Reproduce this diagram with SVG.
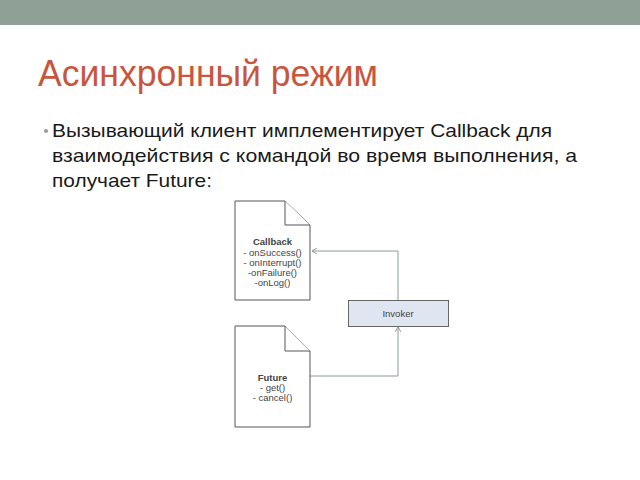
<svg xmlns="http://www.w3.org/2000/svg" width="640" height="480" viewBox="0 0 640 480">
<defs>
<style>
.title{font-family:"Liberation Sans",Arial,sans-serif;font-size:37px;fill:#c8553d}
.body{font-family:"Liberation Sans",Arial,sans-serif;font-size:19px;fill:#1a1a1a}
.doc{fill:#ffffff;stroke:#555;stroke-width:1}
.lbl{font-family:"Liberation Sans",Arial,sans-serif;font-size:9.5px;fill:#444;text-anchor:middle}
.bold{font-weight:bold}
.conn{fill:none;stroke:#8c9a9c;stroke-width:1}
</style>
<marker id="ah" markerWidth="6" markerHeight="6" refX="5" refY="3" orient="auto" markerUnits="userSpaceOnUse">
<path d="M0,0 L5,3 L0,6" fill="none" stroke="#8c9a9c" stroke-width="1"/>
</marker>
</defs>
<rect x="0" y="0" width="640" height="480" fill="#ffffff"/>
<rect x="0" y="0" width="640" height="25" fill="#8fa097"/>
<text class="title" x="38" y="86" textLength="340" lengthAdjust="spacingAndGlyphs">Асинхронный режим</text>
<circle cx="46" cy="131" r="2" fill="#999"/>
<text class="body" x="52" y="137" textLength="500" lengthAdjust="spacingAndGlyphs">Вызывающий клиент имплементирует Callback для</text>
<text class="body" x="52" y="162" textLength="525" lengthAdjust="spacingAndGlyphs">взаимодействия с командой во время выполнения, а</text>
<text class="body" x="52" y="187" textLength="160" lengthAdjust="spacingAndGlyphs">получает Future:</text>
<g id="connectors">
<path class="conn" d="M398,300 V251 H312" marker-end="url(#ah)"/>
<path class="conn" d="M310,376 H398 V327" marker-end="url(#ah)"/>
</g>
<g id="callback">
<path class="doc" d="M235,201 H285 L310,225 V300 H235 Z"/>
<path class="doc" d="M285,201 V225 H310" fill="none"/>
<text class="lbl bold" x="272.500" y="245">Callback</text>
<text class="lbl" x="272.500" y="256">- onSuccess()</text>
<text class="lbl" x="272.500" y="265.500">- onInterrupt()</text>
<text class="lbl" x="272.500" y="275.500">-onFailure()</text>
<text class="lbl" x="272.500" y="285.500">-onLog()</text>
</g>
<g id="invoker">
<rect x="348.500" y="300.500" width="100" height="26" fill="#dfe5f1" stroke="#666"/>
<text class="lbl" x="398" y="316.500">Invoker</text>
</g>
<g id="future">
<path class="doc" d="M235,326 H285 L310,351 V427 H235 Z"/>
<path class="doc" d="M285,326 V351 H310" fill="none"/>
<text class="lbl bold" x="272.500" y="381">Future</text>
<text class="lbl" x="272.500" y="391">- get()</text>
<text class="lbl" x="272.500" y="401">- cancel()</text>
</g>
</svg>
